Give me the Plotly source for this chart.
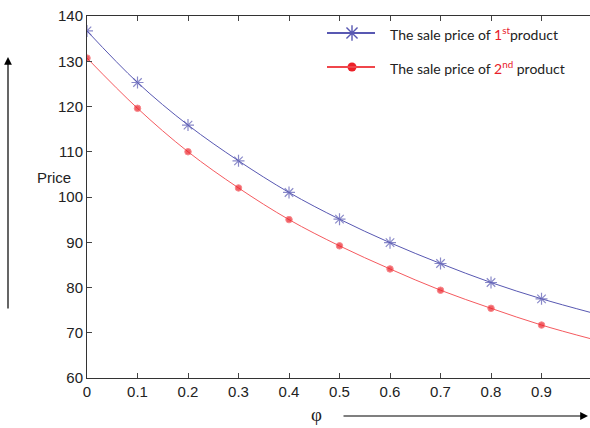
import plotly.graph_objects as go

# phi values and sale prices of the two products
phi = [0.0, 0.1, 0.2, 0.3, 0.4, 0.5, 0.6, 0.7, 0.8, 0.9, 1.0]
price_1st = [136.7, 125.3, 115.9, 108.0, 101.0, 95.1, 89.9, 85.3, 81.1, 77.5, 74.4]
price_2nd = [130.7, 119.6, 110.0, 102.0, 95.0, 89.2, 84.1, 79.4, 75.4, 71.7, 68.6]
x_ticks = [0, 0.1, 0.2, 0.3, 0.4, 0.5, 0.6, 0.7, 0.8, 0.9]
y_ticks = [60, 70, 80, 90, 100, 110, 120, 130, 140]
legend_labels = [
    "The sale price of <span style='color:#e8202a'>1<sup>st</sup></span>product",
    "The sale price of <span style='color:#e8202a'>2<sup>nd</sup></span> product",
]

blue = "rgb(88,88,178)"
red = "rgb(236,32,40)"
red_line = "rgb(245,90,95)"

# markers on every point except the curve end at phi = 1
n = len(phi)
msize_b = [10] * (n - 1) + [0]
msize_r = [6.5] * (n - 1) + [0]

W, H = 590, 428
L, T, B, R = 87, 16, 50, 0
PW, PH = W - L - R, H - T - B


def px(x):
    return (x - L) / PW


def py(y):
    return (H - B - y) / PH


fig = go.Figure()
fig.add_trace(go.Scatter(
    x=phi, y=price_1st, mode="lines+markers", line=dict(color=blue, width=1, shape="spline"),
    marker=dict(symbol="asterisk-open", size=msize_b, color=blue, line=dict(color=blue, width=1.2)),
    showlegend=False,
))
fig.add_trace(go.Scatter(
    x=phi, y=price_2nd, mode="lines+markers", line=dict(color=red_line, width=1, shape="spline"),
    marker=dict(symbol="circle", size=msize_r, color=red),
    showlegend=False,
))

# legend drawn on a pixel-unit overlay axis pair
leg_x0, leg_x1, leg_mx, leg_tx = 327, 375, 352, 388
leg_rows = [33, 67]
fig.add_trace(go.Scatter(
    x=[leg_mx], y=[leg_rows[0]], xaxis="x2", yaxis="y2", mode="markers", showlegend=False,
    marker=dict(symbol="asterisk-open", size=13, color=blue, line=dict(color=blue, width=1.4)),
    hoverinfo="skip",
))
fig.add_trace(go.Scatter(
    x=[leg_mx], y=[leg_rows[1]], xaxis="x2", yaxis="y2", mode="markers", showlegend=False,
    marker=dict(symbol="circle", size=9, color=red), hoverinfo="skip",
))

shapes = [
    dict(type="line", xref="x2", yref="y2", x0=leg_x0, x1=leg_x1, y0=leg_rows[0], y1=leg_rows[0],
         line=dict(color=blue, width=2)),
    dict(type="line", xref="x2", yref="y2", x0=leg_x0, x1=leg_x1, y0=leg_rows[1], y1=leg_rows[1],
         line=dict(color="rgb(240,70,75)", width=2)),
]

annotations = [
    # upward arrow beside the price axis
    dict(x=px(8), y=py(57), xref="paper", yref="paper", ax=0, ay=253, axref="pixel", ayref="pixel",
         showarrow=True, arrowhead=2, arrowsize=1.3, arrowwidth=1.2, arrowcolor="black", text=""),
    # rightward arrow under the phi axis
    dict(x=px(588), y=py(416), xref="paper", yref="paper", ax=-246, ay=0, axref="pixel",
         ayref="pixel", showarrow=True, arrowhead=2, arrowsize=1.3, arrowwidth=1.2,
         arrowcolor="black", text=""),
    dict(x=px(35), y=py(177), xref="paper", yref="paper", showarrow=False, text="Price",
         font=dict(family="Liberation Sans, Arial", size=15, color="#222")),
    dict(x=px(316), y=py(427), xref="paper", yref="paper", yanchor="bottom", showarrow=False,
         text="φ", font=dict(family="Liberation Serif, Times New Roman", size=19, color="#222")),
]
for row, label in zip(leg_rows, legend_labels):
    annotations.append(dict(x=leg_tx, y=row, xref="x2", yref="y2", xanchor="left", yanchor="middle",
                            showarrow=False, text=label,
                            font=dict(family="Lato, Open Sans", size=14, color="#222")))

fig.update_layout(
    width=W, height=H, margin=dict(l=L, r=R, t=T, b=B),
    paper_bgcolor="white", plot_bgcolor="white",
    font=dict(family="Liberation Sans, Arial", size=15, color="#222"),
    showlegend=False,
    shapes=shapes,
    annotations=annotations,
    xaxis=dict(range=[0, 0.996], tickvals=x_ticks, ticktext=[f"{v:g}" for v in x_ticks],
               showgrid=False, zeroline=False, showline=True, linecolor="#333", linewidth=1,
               mirror="ticks", ticks="inside", ticklen=5, tickcolor="#444"),
    yaxis=dict(range=[60, 140], tickvals=y_ticks, showgrid=False, zeroline=False, showline=True,
               linecolor="#333", linewidth=1, mirror=False, ticks="inside", ticklen=5,
               tickcolor="#444"),
    xaxis2=dict(overlaying="x", range=[L, W - R], visible=False, fixedrange=True),
    yaxis2=dict(overlaying="y", range=[H - B, T], visible=False, fixedrange=True),
)

fig.write_html("out.html")
